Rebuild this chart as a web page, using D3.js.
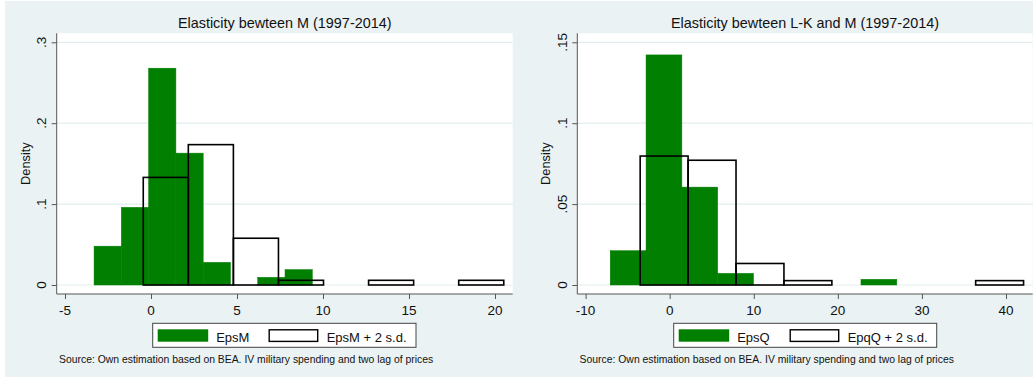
<!DOCTYPE html>
<html>
<head>
<meta charset="utf-8">
<script src="https://cdn.jsdelivr.net/npm/d3@7"></script>
<style>
  html, body { margin: 0; padding: 0; background: #ffffff; }
  svg { display: block; }
  text { font-family: "Liberation Sans", Arial, Helvetica, sans-serif; fill: #111; }
</style>
</head>
<body>
<div id="chart"></div>
<script>
// ---------------- Data ----------------
// Left panel: EpsM
const epsMStart = -3.31, epsMWidth = 1.586;
const epsMDensity = [0.048, 0.096, 0.268, 0.163, 0.028, 0, 0.0095, 0.019];
const epsM2sdStart = -0.45, epsM2sdWidth = 2.62;
const epsM2sdDensity = [0.133, 0.1735, 0.0578, 0.0058, 0, 0.0058, 0, 0.0058];
const leftXTicks = [-5, 0, 5, 10, 15, 20];
const leftYTicks = [0, 0.1, 0.2, 0.3];
const leftYTickLabels = ["0", ".1", ".2", ".3"];

// Right panel: EpsQ
const epsQStart = -7.07, epsQWidth = 4.26;
const epsQDensity = [0.0212, 0.1422, 0.0605, 0.0072, 0, 0, 0, 0.0035];
const epqQ2sdStart = -3.51, epqQ2sdWidth = 5.7;
const epqQ2sdDensity = [0.0797, 0.0771, 0.0133, 0.0027, 0, 0, 0, 0.0027];
const rightXTicks = [-10, 0, 10, 20, 30, 40];
const rightYTicks = [0, 0.05, 0.1, 0.15];
const rightYTickLabels = ["0", ".05", ".1", ".15"];

const titles = ["Elasticity bewteen M (1997-2014)", "Elasticity bewteen L-K and M (1997-2014)"];
const legendLabels = [["EpsM", "EpsM + 2 s.d."], ["EpsQ", "EpqQ + 2 s.d."]];
const sourceNote = "Source: Own estimation based on BEA. IV military spending and two lag of prices";
const yAxisTitle = "Density";

// ---------------- Layout ----------------
const W = 1035, H = 381;
const GREEN = "#007f00";
const BG = "#eaf2f3";

const svg = d3.select("#chart").append("svg").attr("width", W).attr("height", H);
svg.append("rect").attr("x", 0).attr("y", 0).attr("width", W).attr("height", H).attr("fill", "#fff");
svg.append("rect").attr("x", 5).attr("y", 1).attr("width", 1028).attr("height", 376).attr("fill", BG);

function bins(start, width, dens) {
  return dens.map((d, i) => ({ x0: start + i * width, x1: start + (i + 1) * width, d }));
}

const panels = [
  {
    left: 56.7, right: 512.7,
    xDomain: [-5, 20], xRange: [65, 495],
    yMax: 0.3,
    xTicks: leftXTicks, yTicks: leftYTicks, yLabels: leftYTickLabels,
    solid: bins(epsMStart, epsMWidth, epsMDensity),
    outline: bins(epsM2sdStart, epsM2sdWidth, epsM2sdDensity),
    title: titles[0], legend: legendLabels[0],
    legendBox: [152.7, 416]
  },
  {
    left: 577.3, right: 1032.7,
    xDomain: [-10, 40], xRange: [585.6, 1006],
    yMax: 0.15,
    xTicks: rightXTicks, yTicks: rightYTicks, yLabels: rightYTickLabels,
    solid: bins(epsQStart, epsQWidth, epsQDensity),
    outline: bins(epqQ2sdStart, epqQ2sdWidth, epqQ2sdDensity),
    title: titles[1], legend: legendLabels[1],
    legendBox: [673.7, 936.7]
  }
];

const plotTop = 33.3, axisY = 294, y0px = 285, yTopPx = 42.3;

panels.forEach(p => {
  const g = svg.append("g");
  const x = d3.scaleLinear().domain(p.xDomain).range(p.xRange);
  const y = d3.scaleLinear().domain([0, p.yMax]).range([y0px, yTopPx]);

  // plot region
  g.append("rect").attr("x", p.left).attr("y", plotTop)
    .attr("width", p.right - p.left).attr("height", axisY - plotTop).attr("fill", "#fff");

  // gridlines
  g.selectAll(".grid").data(p.yTicks).enter().append("line")
    .attr("x1", p.left).attr("x2", p.right)
    .attr("y1", d => y(d)).attr("y2", d => y(d))
    .attr("stroke", "#e2ecee").attr("stroke-width", 1.2);

  // solid green bars
  g.selectAll(".solid").data(p.solid.filter(b => b.d > 0)).enter().append("rect")
    .attr("x", b => x(b.x0)).attr("width", b => x(b.x1) - x(b.x0))
    .attr("y", b => y(b.d)).attr("height", b => y(0) - y(b.d))
    .attr("fill", GREEN).attr("stroke", GREEN).attr("stroke-width", 0.5);

  // outline bars
  g.selectAll(".outline").data(p.outline.filter(b => b.d > 0)).enter().append("rect")
    .attr("x", b => x(b.x0)).attr("width", b => x(b.x1) - x(b.x0))
    .attr("y", b => y(b.d)).attr("height", b => y(0) - y(b.d))
    .attr("fill", "none").attr("stroke", "#000").attr("stroke-width", 1.6);

  // y axis
  const yAxis = d3.axisLeft(y).tickValues(p.yTicks).tickSize(5).tickFormat("");
  const ya = g.append("g").attr("transform", `translate(${p.left},0)`).call(yAxis);
  ya.select(".domain").remove();
  ya.selectAll("line").attr("stroke", "#555");
  g.append("line").attr("x1", p.left).attr("x2", p.left).attr("y1", plotTop).attr("y2", axisY)
    .attr("stroke", "#555").attr("stroke-width", 1);
  g.selectAll(".ylab").data(p.yTicks).enter().append("text")
    .attr("transform", (d) => `translate(${p.left - 10.7},${y(d)}) rotate(-90)`)
    .attr("text-anchor", "middle").attr("font-size", 13.5)
    .text((d, i) => p.yLabels[i]);

  // x axis
  const xAxis = d3.axisBottom(x).tickValues(p.xTicks).tickSize(5).tickFormat("");
  const xa = g.append("g").attr("transform", `translate(0,${axisY})`).call(xAxis);
  xa.select(".domain").remove();
  xa.selectAll("line").attr("stroke", "#555");
  g.append("line").attr("x1", p.left).attr("x2", p.right).attr("y1", axisY).attr("y2", axisY)
    .attr("stroke", "#555").attr("stroke-width", 1);
  g.selectAll(".xlab").data(p.xTicks).enter().append("text")
    .attr("x", d => x(d)).attr("y", 315)
    .attr("text-anchor", "middle").attr("font-size", 13.5)
    .text(d => d);

  // y axis title
  g.append("text")
    .attr("transform", `translate(${p.left - 27.2},${(plotTop + axisY) / 2}) rotate(-90)`)
    .attr("text-anchor", "middle").attr("font-size", 12.8)
    .text(yAxisTitle);

  // title
  g.append("text").attr("x", (p.left + p.right) / 2).attr("y", 28)
    .attr("text-anchor", "middle").attr("font-size", 14.4)
    .text(p.title);

  // legend
  const [lx0, lx1] = p.legendBox;
  g.append("rect").attr("x", lx0).attr("y", 323.3).attr("width", lx1 - lx0).attr("height", 24)
    .attr("fill", "#fff").attr("stroke", "#444").attr("stroke-width", 1);
  g.append("rect").attr("x", lx0 + 5).attr("y", 329.3).attr("width", 50.5).attr("height", 12.4)
    .attr("fill", GREEN);
  g.append("text").attr("x", lx0 + 63.5).attr("y", 341.5).attr("font-size", 13).text(p.legend[0]);
  g.append("rect").attr("x", lx0 + 116.5).attr("y", 329.8).attr("width", 48.5).attr("height", 11.6)
    .attr("fill", "#fff").attr("stroke", "#000").attr("stroke-width", 1.4);
  g.append("text").attr("x", lx0 + 174).attr("y", 341.5).attr("font-size", 13).text(p.legend[1]);

  // source note
  g.append("text").attr("x", p.left + 2.3).attr("y", 363).attr("font-size", 10.4)
    .attr("fill", "#222").text(sourceNote);
});
</script>
</body>
</html>
